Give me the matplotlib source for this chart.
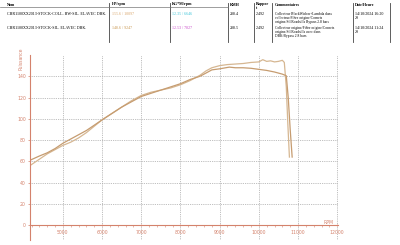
import numpy as np
import matplotlib
matplotlib.use("Agg")
import matplotlib.pyplot as plt
from matplotlib.ticker import MultipleLocator

# Données (rpm -> puissance HP)
rpm_1 = [4160, 4400, 4600, 4800, 5000, 5200, 5400, 5600, 5800, 6000, 6250, 6500, 6750, 7000,
         7250, 7500, 7750, 8000, 8250, 8500, 8650, 8800, 9000, 9200, 9400, 9600, 9800,
         10000, 10100, 10200, 10300, 10400, 10500, 10600, 10650, 10700, 10740, 10780]
hp_1 = [56, 62, 67, 71, 75, 78, 82, 87, 93, 99, 105, 111, 117, 122,
        125, 127, 129, 132, 136, 141, 145, 148, 150, 151, 151.5, 152, 153,
        153.5, 155.6, 154, 154.5, 153.5, 154, 155, 153, 130, 95, 64]

rpm_2 = [4160, 4400, 4600, 4800, 5000, 5200, 5400, 5600, 5800, 6000, 6250, 6500, 6750, 7000,
         7250, 7500, 7750, 8000, 8250, 8500, 8650, 8800, 9000, 9247, 9400, 9600, 9800,
         10000, 10200, 10400, 10500, 10600, 10700, 10750, 10800, 10850]
hp_2 = [61, 65, 68, 72, 77, 81, 85, 89, 94, 99, 105, 111, 116, 121,
        124, 127, 130, 133, 137, 140, 143, 146, 147, 148.6, 148, 148, 147.5,
        146.5, 145.5, 144, 143, 142, 140.5, 120, 90, 64]

colonnes = ["Nom", "HP/rpm", "KG*M/rpm", "KMH", "Rappor\nt", "Commentaires", "Date/Heure"]
noms = ["CBR1100XX2013-STOCK-COLL. BW-SIL. ELAVEC DBK.", "CBR1100XX2013-STOCK-SIL. ELAVEC DBK."]
hp_txt = ["155.6 / 10097", "148.6 / 9247"]
kgm_txt = ["12.35 / 6646", "12.53 / 7827"]
kmh = ["288.4", "288.5"]
rapport = ["2.492", "2.492"]
commentaires = ["Collecteur BlackWidow+Lambda dans\ncollecteur/Filtre origine/Cornets\norigine/Sil Roadsilla Bypass 2.8 bars",
                "Collecteur origine/Filtre origine/Cornets\norigine/Sil Roadsilla avec dans\nDBK/Bypass 2.8 bars"]
dates = ["14/10/2024 16:20\n29", "14/10/2024 11:24\n29"]

couleurs_courbes = ["#d6b792", "#c69c70"]
couleurs_hp = ["#d9a56a", "#c8964e"]
couleurs_kgm = ["#3cc4d8", "#c848c8"]
axe_col = "#d4826c"

fig = plt.figure(figsize=(4, 2.45), dpi=100)
ax = fig.add_axes([30 / 400, 1 - 240 / 245, 308 / 400, 185 / 245])

ax.plot(rpm_1, hp_1, color=couleurs_courbes[0], lw=0.9)
ax.plot(rpm_2, hp_2, color=couleurs_courbes[1], lw=0.9)

ax.set_xlim(4160, 12020)
ax.set_ylim(-14, 160)
ax.xaxis.set_minor_locator(MultipleLocator(200))
ax.set_yticks(range(0, 141, 20))
ax.set_xticks(range(5000, 12001, 1000))
ax.set_xticklabels([str(v) for v in range(5000, 12001, 1000)])

ax.grid(True, color="#a8a8a8", linestyle=(0, (1, 1.2)), linewidth=0.6)
ax.spines["top"].set_visible(False)
ax.spines["right"].set_visible(False)
ax.spines["bottom"].set_position(("data", 0))
ax.spines["bottom"].set_color(axe_col)
ax.spines["left"].set_color(axe_col)
ax.spines["bottom"].set_linewidth(0.8)
ax.spines["left"].set_linewidth(0.8)
ax.tick_params(axis="both", colors=axe_col, labelsize=3.3, length=1.5, width=0.5, pad=1.5)
ax.tick_params(axis="x", which="minor", length=1.2, width=0.4, colors=axe_col)
ax.tick_params(axis="x", direction="inout", pad=2.5)
ax.text(0.985, 0, "RPM", transform=ax.get_yaxis_transform(), color=axe_col, fontsize=3.3,
        ha="right", va="bottom")
ax.set_ylabel("Puissance", color=axe_col, fontsize=3.3, labelpad=2)
ax.yaxis.set_label_coords(-0.022, 1.04)
ax.yaxis.label.set_va("bottom")
ax.yaxis.label.set_ha("right")

# Tableau d'en-tête
police = "Liberation Serif"
fs = 2.9
col_x = [7, 112, 172, 230, 256, 275, 355]
sep_x = [109, 170, 228, 254, 272, 353, 390]
for sx in sep_x:
    fig.add_artist(plt.Line2D([sx / 400, sx / 400], [1 - 3 / 245, 1 - 42 / 245], color="#444444", lw=0.6))
fig.add_artist(plt.Line2D([0, 228 / 400], [1 - 7.5 / 245, 1 - 7.5 / 245], color="#777777", lw=0.5))
for c, x in zip(colonnes, col_x):
    fig.text(x / 400, 1 - 2.5 / 245, c, fontsize=fs, family=police, weight="bold", va="top", ha="left",
             linespacing=0.9)

rangees_y = [12, 26]
for i, y in enumerate(rangees_y):
    yy = 1 - y / 245
    fig.text(col_x[0] / 400, yy, noms[i], fontsize=fs, family=police, va="top")
    fig.text(col_x[1] / 400, yy, hp_txt[i], fontsize=fs, family=police, va="top", color=couleurs_hp[i])
    fig.text(col_x[2] / 400, yy, kgm_txt[i], fontsize=fs, family=police, va="top", color=couleurs_kgm[i])
    fig.text(col_x[3] / 400, yy, kmh[i], fontsize=fs, family=police, va="top")
    fig.text(col_x[4] / 400, yy, rapport[i], fontsize=fs, family=police, va="top")
    fig.text(col_x[5] / 400, yy, commentaires[i], fontsize=2.6, family=police, va="top", linespacing=1.05)
    fig.text(col_x[6] / 400, yy, dates[i], fontsize=fs, family=police, va="top", linespacing=1.05)

fig.savefig("out.png", dpi=100)
